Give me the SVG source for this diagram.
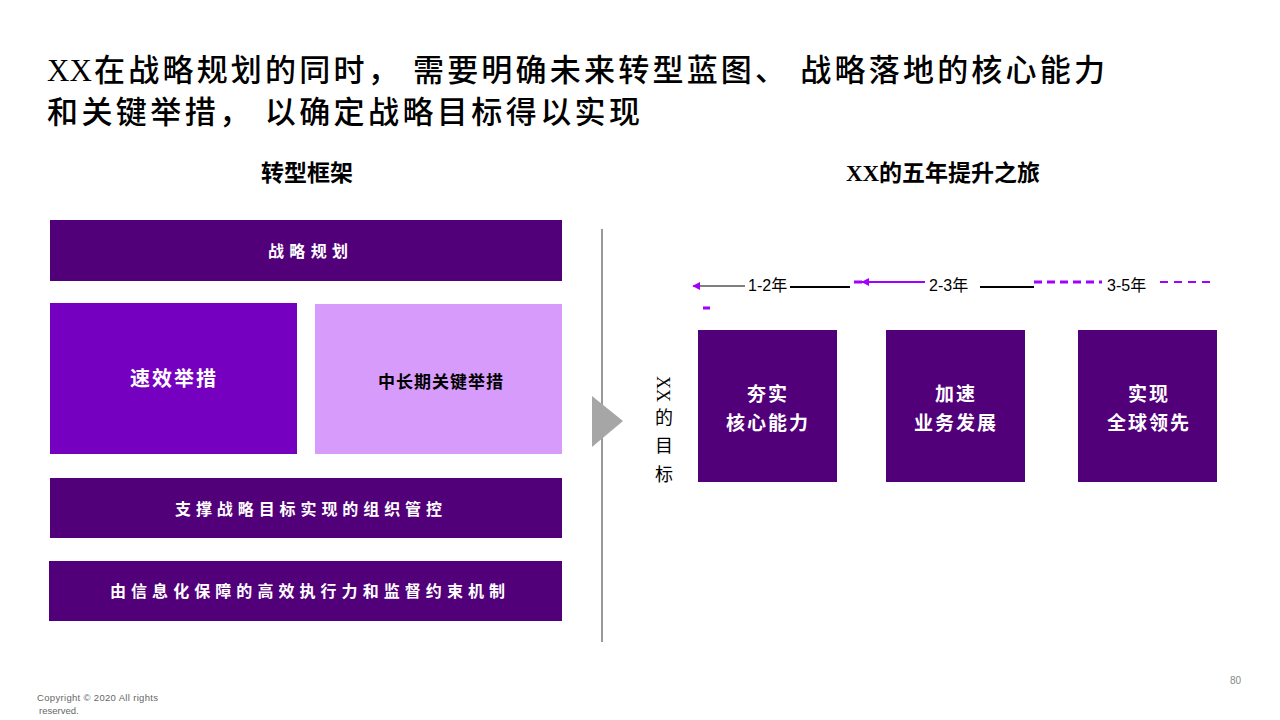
<svg xmlns="http://www.w3.org/2000/svg" width="1280" height="720" viewBox="0 0 1280 720">
<defs>
<style>
.t{font-family:"Liberation Serif","Noto Sans CJK SC",serif;}
.title{font-size:31px;fill:#000;font-weight:500;}
.sub{font-size:23px;fill:#000;font-weight:bold;}
.wb{font-family:"Noto Sans CJK SC",sans-serif;font-weight:bold;fill:#fff;font-size:16px;}
.dark{fill:#52007A;}
.lbl{font-family:"Liberation Sans","Noto Sans CJK SC",sans-serif;font-size:16px;fill:#000;}
.goal{font-family:"Noto Sans CJK SC",sans-serif;font-size:19px;fill:#fff;font-weight:bold;}
</style>
<marker id="ah" viewBox="0 0 10 10" refX="9" refY="5" markerWidth="8" markerHeight="8" markerUnits="userSpaceOnUse" orient="auto">
<path d="M0,0 L10,5 L0,10 Z" fill="#A100FF"/>
</marker>
</defs>

<g id="title">
<text class="t title" x="47" y="81">XX</text>
<text class="t title" x="94" y="81" textLength="1011" lengthAdjust="spacing">在战略规划的同时， 需要明确未来转型蓝图、 战略落地的核心能力</text>
<text class="t title" x="47" y="123" textLength="593" lengthAdjust="spacing">和关键举措， 以确定战略目标得以实现</text>
</g>

<g id="subheads">
<text class="t sub" x="307" y="181" text-anchor="middle">转型框架</text>
<text class="t sub" x="943" y="181" text-anchor="middle">XX的五年提升之旅</text>
</g>

<g id="box-strategy">
<rect class="dark" x="50" y="220" width="512" height="61"/>
<text class="wb" x="268" y="257" textLength="80" lengthAdjust="spacing">战略规划</text>
</g>
<g id="box-quick">
<rect x="50" y="303" width="247" height="151" fill="#7500C0"/>
<text class="wb" x="174" y="386" text-anchor="middle" style="font-size:20px" letter-spacing="2">速效举措</text>
</g>
<g id="box-long">
<rect x="315" y="304" width="247" height="150" fill="#D79BFC"/>
<text x="441" y="388" text-anchor="middle" style="font-family:'Noto Sans CJK SC',sans-serif;font-weight:bold;font-size:17px;fill:#000" letter-spacing="1">中长期关键举措</text>
</g>
<g id="box-org">
<rect class="dark" x="50" y="478" width="512" height="60"/>
<text class="wb" x="175" y="515" textLength="267" lengthAdjust="spacing">支撑战略目标实现的组织管控</text>
</g>
<g id="box-exec">
<rect class="dark" x="49" y="561" width="513" height="60"/>
<text class="wb" x="110" y="597" textLength="395" lengthAdjust="spacing">由信息化保障的高效执行力和监督约束机制</text>
</g>

<g id="divider">
<line x1="602" y1="229" x2="602" y2="642" stroke="#999" stroke-width="2"/>
<polygon points="592,396 623,421 592,447" fill="#A6A6A6"/>
</g>

<g id="goal-label">
<text x="663" y="376" transform="rotate(90 663 376)" text-anchor="start" dominant-baseline="central" style="font-family:'Liberation Serif',serif;font-size:18px;fill:#000">XX</text>
<text x="664" y="424" text-anchor="middle" style="font-family:'Noto Sans CJK SC',sans-serif;font-size:18px;fill:#000">的</text>
<text x="664" y="452" text-anchor="middle" style="font-family:'Noto Sans CJK SC',sans-serif;font-size:18px;fill:#000">目</text>
<text x="664" y="481" text-anchor="middle" style="font-family:'Noto Sans CJK SC',sans-serif;font-size:18px;fill:#000">标</text>
</g>

<g id="goal1">
<rect class="dark" x="698" y="330" width="139" height="152"/>
<text class="goal" x="768" y="401" text-anchor="middle" letter-spacing="2">夯实</text>
<text class="goal" x="768" y="430" text-anchor="middle" letter-spacing="2">核心能力</text>
</g>
<g id="goal2">
<rect class="dark" x="886" y="330" width="139" height="152"/>
<text class="goal" x="956" y="401" text-anchor="middle" letter-spacing="2">加速</text>
<text class="goal" x="956" y="430" text-anchor="middle" letter-spacing="2">业务发展</text>
</g>
<g id="goal3">
<rect class="dark" x="1078" y="330" width="139" height="152"/>
<text class="goal" x="1149" y="401" text-anchor="middle" letter-spacing="2">实现</text>
<text class="goal" x="1149" y="430" text-anchor="middle" letter-spacing="2">全球领先</text>
</g>

<g id="connectors">
<line x1="745" y1="286" x2="693" y2="286" stroke="#000" stroke-width="1" marker-end="url(#ah)"/>
<line x1="790" y1="287" x2="850" y2="287" stroke="#000" stroke-width="2"/>
<line x1="703" y1="308" x2="710" y2="308" stroke="#A100FF" stroke-width="3"/>
<line x1="854" y1="282" x2="862" y2="282" stroke="#A100FF" stroke-width="3"/>
<line x1="925" y1="282" x2="862" y2="282" stroke="#A100FF" stroke-width="2" marker-end="url(#ah)"/>
<line x1="980" y1="287" x2="1034" y2="287" stroke="#000" stroke-width="2"/>
<line x1="1034" y1="282" x2="1102" y2="282" stroke="#A100FF" stroke-width="3" stroke-dasharray="8,5"/>
<line x1="1160" y1="282" x2="1215" y2="282" stroke="#A100FF" stroke-width="2" stroke-dasharray="8,6"/>
</g>

<g id="timeline-labels">
<text class="lbl" x="748" y="291">1-2年</text>
<text class="lbl" x="929" y="291">2-3年</text>
<text class="lbl" x="1107" y="291">3-5年</text>
</g>

<g id="footer">
<text x="37" y="701" textLength="121" lengthAdjust="spacing" style="font-family:'Liberation Sans',sans-serif;font-size:9.5px;fill:#666">Copyright ©  2020   All rights</text>
<text x="39" y="714" style="font-family:'Liberation Sans',sans-serif;font-size:9.5px;fill:#666">reserved.</text>
<text x="1241" y="684" text-anchor="end" style="font-family:'Liberation Sans',sans-serif;font-size:10px;fill:#888">80</text>
</g>
</svg>
